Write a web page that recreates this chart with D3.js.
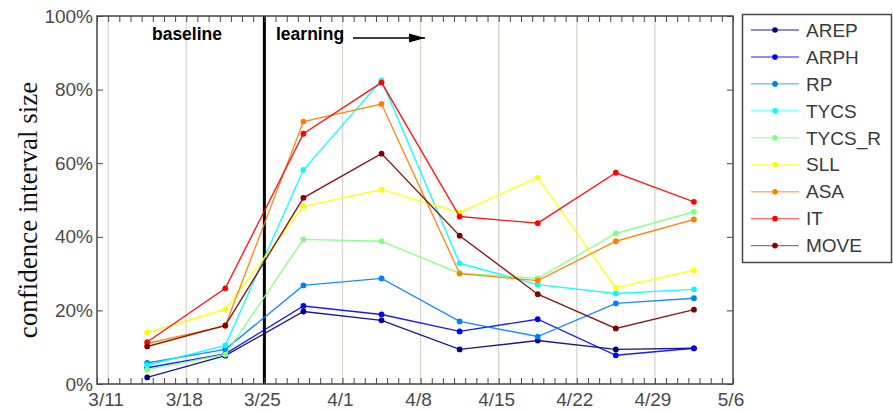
<!DOCTYPE html>
<html><head><meta charset="utf-8">
<script src="https://cdn.jsdelivr.net/npm/d3@7"></script>
<style>body{margin:0;background:#fff}svg{display:block}</style>
</head><body>
<svg id="c" width="893" height="411"></svg>
<script>
// ---- data ----
const seriesNames = ["AREP","ARPH","RP","TYCS","TYCS_R","SLL","ASA","IT","MOVE"];
const seriesColors = ["#000080","#0000ff","#0080ff","#00ffff","#80ff80","#ffff00","#ff8000","#ff0000","#800000"];
const sampleDates = ["2013-03-14T12","2013-03-21T12","2013-03-28T12","2013-04-04T12","2013-04-11T12","2013-04-18T12","2013-04-25T12","2013-05-02T12"];
const AREP   = [1.8, 7.7, 19.7, 17.3,  9.4, 11.8,  9.4,  9.7];
const ARPH   = [4.4, 8.2, 21.2, 18.9, 14.3, 17.6,  7.8,  9.7];
const RP     = [5.7, 9.4, 26.8, 28.7, 17.0, 12.9, 21.9, 23.3];
const TYCS   = [5.1,10.5, 58.2, 82.5, 32.8, 27.0, 24.6, 25.7];
const TYCS_R = [3.9, 8.0, 39.3, 38.8, 30.1, 28.7, 40.9, 46.8];
const SLL    = [14.0,20.3, 48.3, 52.8, 46.6, 56.1, 26.1, 30.9];
const ASA    = [11.0,15.8, 71.3, 76.1, 30.0, 28.1, 38.8, 44.7];
const IT     = [11.4,26.0, 68.0, 81.9, 45.5, 43.7, 57.4, 49.5];
const MOVE   = [10.2,15.9, 50.6, 62.6, 40.3, 24.4, 15.1, 20.2];
const seriesValues = [AREP,ARPH,RP,TYCS,TYCS_R,SLL,ASA,IT,MOVE];
const xTickLabels = ["3/11","3/18","3/25","4/1","4/8","4/15","4/22","4/29","5/6"];
const yTicks = [0,20,40,60,80,100];
const phaseLabels = ["baseline","learning"];
const phaseSplit = "3/25";

// ---- layout ----
const svg = d3.select("#c");
const X0 = 97, X1 = 733, Y0 = 16, Y1 = 384;
const parseMD = s => { const [m,d] = s.split("/").map(Number); return new Date(Date.UTC(2013, m-1, d)); };
const x = d3.scaleUtc().domain([new Date(Date.UTC(2013,2,10)), new Date(Date.UTC(2013,4,6))]).range([X0, X1]);
const y = d3.scaleLinear().domain([0,100]).range([Y1, Y0]);
const dates = sampleDates.map(s => new Date(s + ":00:00Z"));
const weekTicks = xTickLabels.map(parseMD);
const dayTicks = d3.utcDay.range(x.domain()[0], d3.utcDay.offset(x.domain()[1], 1));

// gridlines
svg.append("g").selectAll("line").data(weekTicks.filter(d => +d !== +parseMD(phaseSplit) && +d < +x.domain()[1]))
  .join("line").attr("x1", d => x(d)).attr("x2", d => x(d)).attr("y1", Y0).attr("y2", Y1)
  .attr("stroke", "#d8d6cc").attr("stroke-width", 1.3);

// phase split line
svg.append("line").attr("x1", x(parseMD(phaseSplit))).attr("x2", x(parseMD(phaseSplit)))
  .attr("y1", Y0).attr("y2", Y1).attr("stroke", "#000").attr("stroke-width", 3);

// axes
const tickFont = "'Liberation Sans', Arial, sans-serif";
const axB = svg.append("g").attr("transform", `translate(0,${Y1})`)
  .call(d3.axisBottom(x).tickValues(dayTicks).tickSize(-6).tickFormat(""));
const axT = svg.append("g").attr("transform", `translate(0,${Y0})`)
  .call(d3.axisTop(x).tickValues(dayTicks).tickSize(-6).tickFormat(""));
const axL = svg.append("g").attr("transform", `translate(${X0},0)`)
  .call(d3.axisLeft(y).tickValues(yTicks).tickSize(-6).tickFormat(d => d + "%"));
const axR = svg.append("g").attr("transform", `translate(${X1},0)`)
  .call(d3.axisRight(y).tickValues(yTicks).tickSize(-6).tickFormat(""));
[axB, axT, axL, axR].forEach(g => {
  g.select(".domain").remove();
  g.selectAll(".tick line").attr("stroke", "#444").attr("stroke-width", 1);
});
axL.selectAll(".tick text").attr("x", -4).attr("font-family", tickFont).attr("font-size", 19).attr("fill", "#4a4a4a");
// x labels
svg.append("g").selectAll("text").data(weekTicks).join("text")
  .attr("x", (d) => x(d) - 2).attr("y", 406).attr("text-anchor", "middle")
  .attr("font-family", tickFont).attr("font-size", 19).attr("fill", "#4a4a4a")
  .text((d, i) => xTickLabels[i]);

// series
const line = d3.line().x((d, i) => x(dates[i])).y(d => y(d));
const gS = svg.append("g");
seriesValues.forEach((vals, k) => {
  gS.append("path").datum(vals).attr("d", line).attr("fill", "none")
    .attr("stroke", seriesColors[k]).attr("stroke-width", 1.4).attr("stroke-opacity", 0.9);
  gS.append("g").selectAll("circle").data(vals).join("circle")
    .attr("cx", (d, i) => x(dates[i])).attr("cy", d => y(d)).attr("r", 2.9)
    .attr("fill", seriesColors[k]);
});

// frame
svg.append("rect").attr("x", X0).attr("y", Y0).attr("width", X1 - X0).attr("height", Y1 - Y0)
  .attr("fill", "none").attr("stroke", "#444").attr("stroke-width", 1.5);

// phase labels
svg.append("text").attr("x", 187).attr("y", 40).attr("text-anchor", "middle")
  .attr("font-family", tickFont).attr("font-weight", "bold").attr("font-size", 17.5).text(phaseLabels[0]);
svg.append("text").attr("x", 276).attr("y", 40)
  .attr("font-family", tickFont).attr("font-weight", "bold").attr("font-size", 17.5).text(phaseLabels[1]);
svg.append("defs").append("marker").attr("id", "ah").attr("viewBox", "0 0 16 10").attr("refX", 16).attr("refY", 5)
  .attr("markerWidth", 16).attr("markerHeight", 10).attr("markerUnits", "userSpaceOnUse").attr("orient", "auto")
  .append("path").attr("d", "M0,0.5 L16,5 L0,9.5 Z").attr("fill", "#000");
svg.append("line").attr("x1", 353).attr("x2", 425).attr("y1", 38).attr("y2", 38)
  .attr("stroke", "#000").attr("stroke-width", 1.6).attr("marker-end", "url(#ah)");

// y label
svg.append("text").attr("transform", "translate(37,210) rotate(-90)").attr("text-anchor", "middle")
  .attr("font-family", "'Liberation Serif', 'Times New Roman', serif").attr("font-size", 27).attr("fill", "#111")
  .text("confidence interval size");

// legend
const lg = svg.append("g");
lg.append("rect").attr("x", 742.5).attr("y", 14.5).attr("width", 149).attr("height", 248)
  .attr("fill", "#fff").attr("stroke", "#444").attr("stroke-width", 1.5);
const items = lg.selectAll("g.it").data(seriesNames).join("g").attr("class", "it")
  .attr("transform", (d, i) => `translate(0,${30 + i * 26.95})`);
items.append("line").attr("x1", 751).attr("x2", 799).attr("y1", 0).attr("y2", 0)
  .attr("stroke", (d, i) => seriesColors[i]).attr("stroke-width", 1.4).attr("stroke-opacity", 0.6);
items.append("circle").attr("cx", 775).attr("cy", 0).attr("r", 2.8).attr("fill", (d, i) => seriesColors[i]);
items.append("text").attr("x", 806).attr("y", 6.7).attr("font-family", tickFont).attr("font-size", 19)
  .attr("fill", "#3a3a3a").text(d => d);
</script>
</body></html>
